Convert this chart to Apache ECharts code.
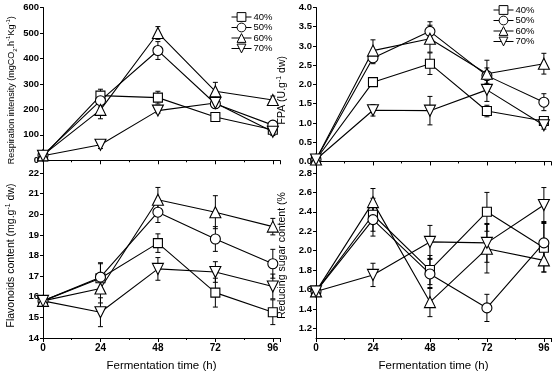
<!DOCTYPE html>
<html>
<head>
<meta charset="utf-8">
<script src="https://cdn.jsdelivr.net/npm/echarts@6/dist/echarts.min.js"></script>
<style>
  html, body { margin: 0; padding: 0; background: #fff; }
  #chart { width: 554px; height: 375px; }
</style>
</head>
<body>
<div id="chart"></div>
<script>
// Fermentation time points (h)
const times = [0, 24, 48, 72, 96];
const names = ['40%', '50%', '60%', '70%'];

// Respiration intensity
const resp40 = [15, 254, 246, 170, 120];
const resp50 = [20, 234, 431, 222, 138];
const resp60 = [20, 198, 500, 271, 237];
const resp70 = [18, 61, 195, 225, 112];
const respErr40 = [8, 25, 25, 15, 10];
const respErr50 = [8, 25, 35, 15, 15];
const respErr60 = [8, 35, 25, 35, 15];
const respErr70 = [8, 15, 10, 20, 15];

// FPA
const fpa40 = [0.05, 2.06, 2.54, 1.31, 1.05];
const fpa50 = [0.05, 2.69, 3.38, 2.23, 1.54];
const fpa60 = [0.05, 2.88, 3.19, 2.28, 2.54];
const fpa70 = [0.05, 1.33, 1.32, 1.86, 0.94];
const fpaErr40 = [0.03, 0.1, 0.28, 0.15, 0.1];
const fpaErr50 = [0.03, 0.15, 0.25, 0.2, 0.22];
const fpaErr60 = [0.03, 0.28, 0.35, 0.35, 0.27];
const fpaErr70 = [0.03, 0.15, 0.37, 0.3, 0.1];

// Flavonoids content
const fla40 = [15.8, 16.9, 18.6, 16.2, 15.25];
const fla50 = [15.8, 16.95, 20.1, 18.8, 17.6];
const fla60 = [15.8, 16.4, 20.7, 20.1, 19.4];
const fla70 = [15.8, 15.25, 17.35, 17.2, 16.5];
const flaErr40 = [0.1, 0.7, 0.45, 0.7, 0.6];
const flaErr50 = [0.1, 0.7, 0.5, 0.6, 0.7];
const flaErr60 = [0.1, 0.7, 0.6, 0.8, 0.4];
const flaErr70 = [0.1, 0.7, 0.55, 0.5, 0.6];

// Reducing sugar content
const sug40 = [1.58, 2.37, 1.80, 2.40, 2.03];
const sug50 = [1.58, 2.32, 1.76, 1.41, 2.08];
const sug60 = [1.58, 2.50, 1.47, 2.02, 1.90];
const sug70 = [1.58, 1.75, 2.09, 2.08, 2.47];
const sugErr40 = [0.02, 0.17, 0.15, 0.2, 0.25];
const sugErr50 = [0.02, 0.17, 0.15, 0.14, 0.22];
const sugErr60 = [0.02, 0.14, 0.15, 0.25, 0.12];
const sugErr70 = [0.02, 0.12, 0.17, 0.2, 0.18];

// Tick labels
const respTicks = [0, 100, 200, 300, 400, 500, 600];
const fpaTicks = [0, 0.5, 1, 1.5, 2, 2.5, 3, 3.5, 4];
const flaTicks = [14, 15, 16, 17, 18, 19, 20, 21, 22];
const sugTicks = [1.2, 1.4, 1.6, 1.8, 2.0, 2.2, 2.4, 2.6, 2.8];

const FONT = '"Liberation Sans", Arial, sans-serif';
const symbols = ['rect', 'circle', 'triangle', 'path://M0,0L10,0L5,9Z'];
const symbolSizes = [9, 10, 11, 11];

const panels = [
  { vals: [resp40, resp50, resp60, resp70], errs: [respErr40, respErr50, respErr60, respErr70] },
  { vals: [fpa40, fpa50, fpa60, fpa70], errs: [fpaErr40, fpaErr50, fpaErr60, fpaErr70] },
  { vals: [fla40, fla50, fla60, fla70], errs: [flaErr40, flaErr50, flaErr60, flaErr70] },
  { vals: [sug40, sug50, sug60, sug70], errs: [sugErr40, sugErr50, sugErr60, sugErr70] }
];

const grids = [
  { left: 43, top: 7.5, width: 237, height: 165.5 },
  { left: 316, top: 7.5, width: 235, height: 165.5 },
  { left: 43, top: 173, width: 237, height: 165 },
  { left: 316, top: 173, width: 235, height: 165 }
];

function xAxisFor(idx, bottom) {
  return {
    type: 'value', gridIndex: idx, min: 0, max: 99, interval: 24,
    axisLine: { lineStyle: { color: '#000', width: 1 } },
    axisTick: { show: true, length: 4, lineStyle: { color: '#000' } },
    minorTick: { show: true, splitNumber: 2, length: 2, lineStyle: { color: '#000' } },
    splitLine: { show: false },
    axisLabel: { show: bottom, color: '#000', fontFamily: FONT, fontSize: 10, fontWeight: 'bold', margin: 5 },
    name: bottom ? 'Fermentation time (h)' : '',
    nameLocation: 'middle', nameGap: 22,
    nameTextStyle: { color: '#000', fontFamily: FONT, fontSize: 11.5 }
  };
}

function yAxisFor(idx, min, max, ticks, decimals, name, gap, size) {
  const small = Math.round(size * 0.65);
  return {
    type: 'value', gridIndex: idx, min: min, max: max,
    axisLine: { show: true, lineStyle: { color: '#000', width: 1 } },
    axisTick: { show: true, length: 3, inside: false, customValues: ticks, lineStyle: { color: '#000' } },
    splitLine: { show: false },
    axisLabel: {
      color: '#000', fontFamily: FONT, fontSize: 9.5, fontWeight: 'bold', margin: 4,
      customValues: ticks,
      formatter: v => v.toFixed(decimals)
    },
    name: name, nameLocation: 'middle', nameGap: gap,
    nameTextStyle: {
      color: '#000', fontFamily: FONT, fontSize: size, lineHeight: 13,
      rich: {
        sub: { fontSize: small, verticalAlign: 'bottom', color: '#000', fontFamily: FONT },
        sup: { fontSize: small, verticalAlign: 'top', color: '#000', fontFamily: FONT }
      }
    }
  };
}

const xAxes = [xAxisFor(0, false), xAxisFor(1, false), xAxisFor(2, true), xAxisFor(3, true)];
const yAxes = [
  yAxisFor(0, -50, 600, respTicks, 0, 'Respiration intensity (mgCO{sub|2}.h{sup|-1}Kg{sup|-1})', 25, 9),
  yAxisFor(1, -0.3, 4.0, fpaTicks, 1, 'FPA (U.g{sup|-1} dw)', 27, 10.5),
  yAxisFor(2, 14, 22, flaTicks, 0, 'Flavonoids content (mg.g{sup|-1} dw)', 25, 10.5),
  yAxisFor(3, 1.1, 2.8, sugTicks, 1, 'Reducing sugar content (%', 27, 10.5)
];

function errorRender(params, api) {
  const lo = api.coord([api.value(0), api.value(1)]);
  const hi = api.coord([api.value(0), api.value(2)]);
  const cap = 2.5;
  const style = { stroke: '#000', lineWidth: 1 };
  return {
    type: 'group',
    children: [
      { type: 'line', shape: { x1: lo[0], y1: lo[1], x2: hi[0], y2: hi[1] }, style: style },
      { type: 'line', shape: { x1: lo[0] - cap, y1: lo[1], x2: lo[0] + cap, y2: lo[1] }, style: style },
      { type: 'line', shape: { x1: hi[0] - cap, y1: hi[1], x2: hi[0] + cap, y2: hi[1] }, style: style }
    ]
  };
}

const series = [];
panels.forEach((p, gi) => {
  p.vals.forEach((vals, si) => {
    const errs = p.errs[si];
    series.push({
      type: 'custom', name: 'err', xAxisIndex: gi, yAxisIndex: gi, z: 1,
      renderItem: errorRender, silent: true,
      data: times.map((t, i) => [t, vals[i] - errs[i], vals[i] + errs[i]])
    });
    series.push({
      type: 'line', name: names[si], xAxisIndex: gi, yAxisIndex: gi, z: 3,
      data: times.map((t, i) => [t, vals[i]]),
      symbol: symbols[si], symbolSize: symbolSizes[si], showAllSymbol: true,
      lineStyle: { color: '#000', width: 1.1 },
      itemStyle: { color: '#fff', borderColor: '#000', borderWidth: 1.1 },
      animation: false
    });
  });
});

const legendBase = {
  orient: 'vertical', data: names, itemWidth: 20, itemHeight: 11, itemGap: 0.5,
  lineStyle: { width: 1, color: '#000' },
  itemStyle: { color: '#fff', borderColor: '#000', borderWidth: 1 },
  textStyle: { color: '#000', fontFamily: FONT, fontSize: 9.5, padding: [0, 0, 0, -3] },
  selectedMode: false
};

const chart = echarts.init(document.getElementById('chart'), null, { renderer: 'canvas' });
chart.setOption({
  backgroundColor: '#fff',
  animation: false,
  grid: grids,
  xAxis: xAxes,
  yAxis: yAxes,
  legend: [
    Object.assign({}, legendBase, { left: 226, top: 7 }),
    Object.assign({}, legendBase, { left: 488, top: 0 })
  ],
  series: series
});
</script>
</body>
</html>
